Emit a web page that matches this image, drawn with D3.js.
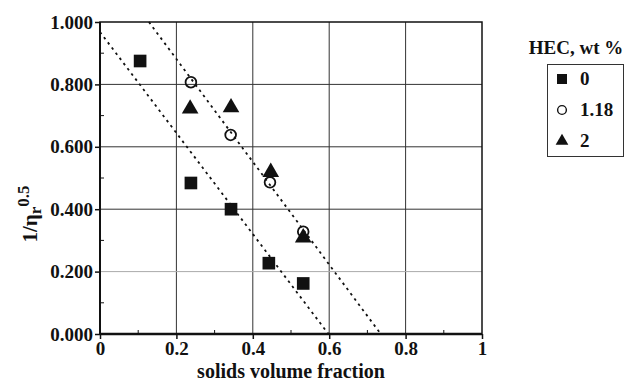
<!DOCTYPE html>
<html lang="en">
<head>
    <meta charset="UTF-8">
    <title>Solids volume fraction</title>
    <script src="https://d3js.org/d3.v7.min.js"></script>
    <style>
        body {
            margin: 0;
            background: #fff;
            font-family: 'Liberation Serif', serif;
        }
        text { font-weight: bold; fill: #111; }
    </style>
</head>
<body>
    <script>
        // HEC 0 wt %
        const sq = [[0.105, 0.875], [0.238, 0.484], [0.343, 0.400], [0.442, 0.227], [0.532, 0.162]];
        // HEC 1.18 wt %
        const circ = [[0.238, 0.807], [0.342, 0.638], [0.445, 0.486], [0.532, 0.328]];
        // HEC 2 wt %
        const tri = [[0.236, 0.725], [0.343, 0.729], [0.447, 0.522], [0.532, 0.312]];
        // dotted fit lines
        const fit1 = [[0, 0.968], [0.598, 0]];
        const fit2 = [[0.128, 1.0], [0.735, 0]];

        const xTicks = [0, 0.2, 0.4, 0.6, 0.8, 1];
        const yTicks = [0, 0.2, 0.4, 0.6, 0.8, 1.0];
        const legendItems = ["0", "1.18", "2"];

        const width = 628, height = 384;
        const m = { left: 100, top: 22, right: 146, bottom: 50 };

        const svg = d3.select("body").append("svg")
            .attr("width", width)
            .attr("height", height);

        const x = d3.scaleLinear().domain([0, 1]).range([m.left, width - m.right]);
        const y = d3.scaleLinear().domain([0, 1]).range([height - m.bottom, m.top]);

        // grid
        svg.append("g").selectAll("line").data(xTicks.slice(1, -1)).join("line")
            .attr("x1", d => x(d)).attr("x2", d => x(d))
            .attr("y1", y(0)).attr("y2", y(1))
            .attr("stroke", "#333").attr("stroke-width", 1);
        svg.append("g").selectAll("line").data(yTicks.slice(1, -1)).join("line")
            .attr("x1", x(0)).attr("x2", x(1))
            .attr("y1", d => y(d)).attr("y2", d => y(d))
            .attr("stroke", d => d === 0.2 ? "#aaa" : "#333")
            .attr("stroke-width", 1);

        // frame
        svg.append("rect")
            .attr("x", x(0)).attr("y", y(1))
            .attr("width", x(1) - x(0)).attr("height", y(0) - y(1))
            .attr("fill", "none").attr("stroke", "#111").attr("stroke-width", 1.5);
        svg.append("line").attr("x1", x(0)).attr("x2", x(1)).attr("y1", y(0)).attr("y2", y(0))
            .attr("stroke", "#111").attr("stroke-width", 2.5);
        svg.append("line").attr("x1", x(0)).attr("x2", x(0)).attr("y1", y(0)).attr("y2", y(1))
            .attr("stroke", "#111").attr("stroke-width", 2);

        // axes
        const xAxis = svg.append("g")
            .attr("transform", `translate(0,${y(0)})`)
            .call(d3.axisBottom(x).tickValues(xTicks).tickFormat(d3.format("")).tickSize(5).tickPadding(3));
        const yAxis = svg.append("g")
            .attr("transform", `translate(${x(0)},0)`)
            .call(d3.axisLeft(y).tickValues(yTicks).tickFormat(d3.format(".3f")).tickSize(5).tickPadding(2));
        [xAxis, yAxis].forEach(a => {
            a.select(".domain").remove();
            a.selectAll("line").attr("stroke", "#111").attr("stroke-width", 1.5);
            a.selectAll("text").style("font-size", "19px").style("font-family", "'Liberation Serif', serif")
                .style("font-weight", "bold").attr("fill", "#111");
        });

        // minor ticks inside
        const minor = [0.1, 0.3, 0.5, 0.7, 0.9];
        svg.append("g").selectAll("line").data(minor).join("line")
            .attr("x1", d => x(d)).attr("x2", d => x(d))
            .attr("y1", y(0)).attr("y2", y(0) - 4)
            .attr("stroke", "#111");
        svg.append("g").selectAll("line").data(minor).join("line")
            .attr("x1", x(0)).attr("x2", x(0) + 4)
            .attr("y1", d => y(d)).attr("y2", d => y(d))
            .attr("stroke", "#111");

        // fit lines
        const line = d3.line().x(d => x(d[0])).y(d => y(d[1]));
        [fit1, fit2].forEach(f => {
            svg.append("path").attr("d", line(f))
                .attr("fill", "none").attr("stroke", "#111")
                .attr("stroke-width", 1.8).attr("stroke-dasharray", "2.5,4");
        });

        // markers
        svg.append("g").selectAll("path").data(sq).join("path")
            .attr("d", d3.symbol().type(d3.symbolSquare).size(160)())
            .attr("transform", d => `translate(${x(d[0])},${y(d[1])})`)
            .attr("fill", "#111");
        svg.append("g").selectAll("path").data(tri).join("path")
            .attr("d", d3.symbol().type(d3.symbolTriangle).size(120)())
            .attr("transform", d => `translate(${x(d[0])},${y(d[1]) + 1})`)
            .attr("fill", "#111");
        svg.append("g").selectAll("path").data(circ).join("path")
            .attr("d", d3.symbol().type(d3.symbolCircle).size(90)())
            .attr("transform", d => `translate(${x(d[0])},${y(d[1])})`)
            .attr("fill", "none").attr("stroke", "#111").attr("stroke-width", 1.8);

        // axis titles
        svg.append("text")
            .attr("x", (x(0) + x(1)) / 2).attr("y", 378)
            .attr("text-anchor", "middle")
            .style("font-size", "20px")
            .text("solids volume fraction");

        const yt = svg.append("text")
            .attr("transform", `translate(37,214) rotate(-90)`)
            .attr("text-anchor", "middle")
            .style("font-size", "21px");
        yt.append("tspan").text("1/η");
        yt.append("tspan").attr("baseline-shift", "-25%").style("font-size", "17px").text("r");
        yt.append("tspan").attr("baseline-shift", "45%").style("font-size", "17px").text("0.5");

        // legend
        svg.append("text").attr("x", 576).attr("y", 54)
            .attr("text-anchor", "middle").style("font-size", "19px").text("HEC, wt %");
        svg.append("rect").attr("x", 547.5).attr("y", 64.5).attr("width", 76).attr("height", 92)
            .attr("fill", "none").attr("stroke", "#333").attr("stroke-width", 1);
        const legSym = [d3.symbolSquare, d3.symbolCircle, d3.symbolTriangle];
        legendItems.forEach((lab, i) => {
            const cy = 79 + i * 31;
            const s = d3.symbol().type(legSym[i]).size([100, 60, 70][i]);
            const p = svg.append("path").attr("d", s())
                .attr("transform", `translate(562,${cy})`);
            if (i === 1) p.attr("fill", "none").attr("stroke", "#111").attr("stroke-width", 1.4);
            else p.attr("fill", "#111");
            svg.append("text").attr("x", 580).attr("y", cy + 6)
                .style("font-size", "19px").text(lab);
        });
    </script>
</body>
</html>
